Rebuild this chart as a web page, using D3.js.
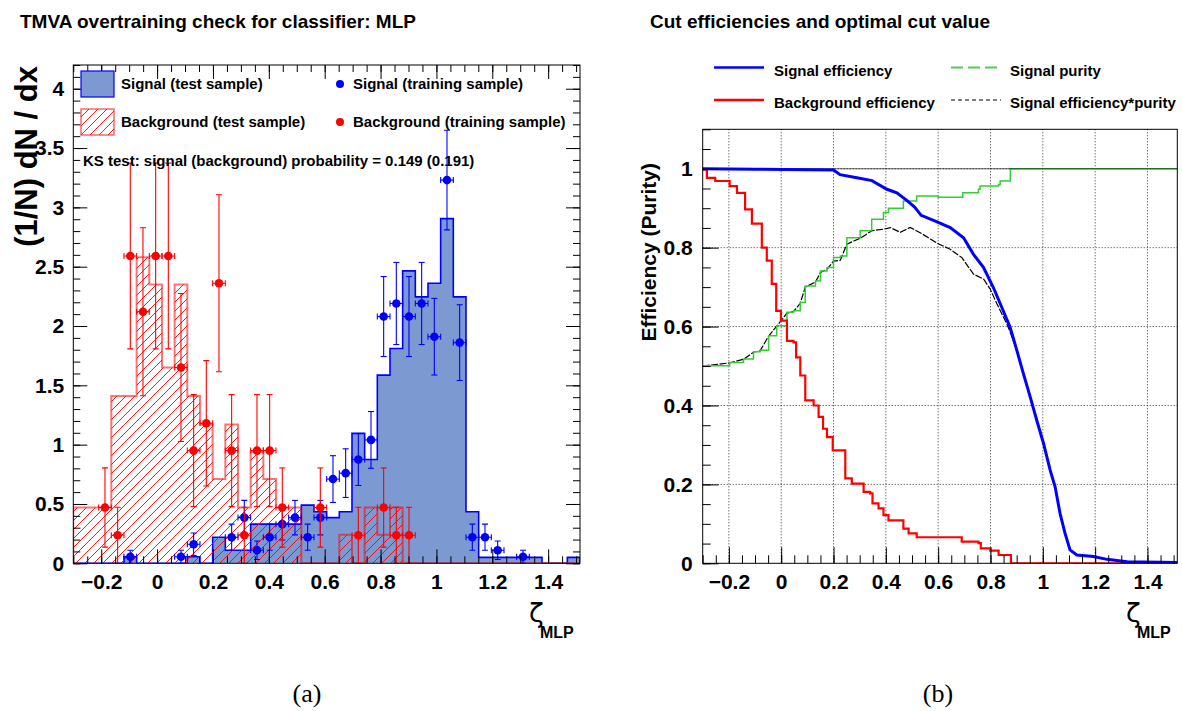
<!DOCTYPE html>
<html lang="en">
<head>
<meta charset="utf-8">
<title>TMVA MLP: overtraining check and cut efficiencies</title>
<script src="https://d3js.org/d3.v7.min.js"></script>
<style>
  body { margin: 0; background: #fff; }
  text { font-family: "Liberation Sans", Arial, Helvetica, sans-serif; font-weight: bold; fill: #000; }
</style>
</head>
<body>
<div id="mainDiv"></div>
<script>
const width = 1182
const height = 711

// binning of the MLP output histograms
const xLo = -0.3
const xHi = 1.514
const nBins = 40

// (a) test samples, 40 bins, normalised (1/N) dN/dx
const sigTest = [0, 0, 0, 0, 0.055, 0, 0, 0, 0, 0.055,
                 0, 0.22, 0.11, 0.11, 0.33, 0.33, 0.33, 0.33, 0.49, 0.435,
                 0.385, 0.435, 1.095, 0.875, 1.586, 1.81, 2.465, 2.246, 2.36, 2.905,
                 2.246, 0.435, 0.05, 0.05, 0.05, 0.05, 0.05, 0, 0, 0.05]
const bkgTest = [0.47, 0.47, 0.47, 1.41, 1.41, 2.58, 2.35, 1.65, 2.35, 1.41,
                 1.17, 0.71, 1.17, 0.47, 0.94, 0.71, 0.47, 0.47, 0, 0,
                 0, 0.24, 0, 0.47, 0.24, 0.47, 0, 0, 0, 0,
                 0, 0, 0, 0, 0, 0, 0, 0, 0, 0]

// (a) training samples: bin index, value, error
const sigTrainBins = [4, 8, 9, 12, 13, 14, 15, 16, 17, 18, 19, 20, 21, 22, 23, 24, 25, 26, 27, 28, 29, 30, 31, 32, 33, 35]
const sigTrainVal = [0.055, 0.055, 0.16, 0.22, 0.385, 0.11, 0.22, 0.33, 0.385, 0.22, 0.385, 0.71, 0.76, 0.875, 1.04,
                     2.08, 2.19, 2.08, 2.19, 1.91, 3.23, 1.86, 0.22, 0.22, 0.11, 0.055]
const sigTrainErr = [0.055, 0.055, 0.095, 0.11, 0.145, 0.078, 0.11, 0.134, 0.145, 0.11, 0.145, 0.197, 0.205, 0.219, 0.239,
                     0.337, 0.346, 0.337, 0.346, 0.323, 0.42, 0.319, 0.11, 0.11, 0.078, 0.055]
const bkgTrainBins = [2, 3, 4, 5, 6, 7, 8, 9, 10, 11, 12, 13, 14, 15, 16, 19, 22, 24, 25, 26]
const bkgTrainVal = [0.47, 0.236, 2.59, 2.12, 2.59, 2.59, 1.65, 0.95, 1.18, 2.36, 0.95, 0.236, 0.95, 0.95, 0.47,
                     0.47, 0.236, 0.47, 0.236, 0.236]
const bkgTrainErr = [0.334, 0.236, 0.783, 0.708, 0.783, 0.783, 0.624, 0.472, 0.528, 0.746, 0.472, 0.236, 0.472, 0.472, 0.334,
                     0.334, 0.236, 0.334, 0.236, 0.236]

// (b) efficiency curves
const sigEffX = [-0.30, -0.10, 0.20, 0.225, 0.289, 0.347, 0.404, 0.442, 0.480, 0.510, 0.535, 0.589, 0.646, 0.697, 0.735,
                 0.773, 0.811, 0.843, 0.875, 0.901, 0.926, 0.952, 0.977, 1.003, 1.028, 1.047, 1.066, 1.085, 1.104, 1.130,
                 1.194, 1.245, 1.322, 1.514]
const sigEffY = [1.000, 0.999, 0.997, 0.985, 0.977, 0.970, 0.948, 0.939, 0.920, 0.903, 0.882, 0.867, 0.851, 0.825, 0.783,
                 0.750, 0.699, 0.649, 0.598, 0.539, 0.480, 0.421, 0.362, 0.303, 0.236, 0.194, 0.126, 0.076, 0.034, 0.021,
                 0.017, 0.010, 0.004, 0.002]
const bkgEffX = [-0.30, -0.284, -0.252, -0.197, -0.169, -0.138, -0.112, -0.074, -0.055, -0.036, -0.019, -0.001, 0.022, 0.047,
                 0.057, 0.073, 0.092, 0.124, 0.143, 0.160, 0.175, 0.197, 0.245, 0.270, 0.315, 0.340, 0.349, 0.372, 0.391,
                 0.410, 0.467, 0.487, 0.518, 0.690, 0.754, 0.763, 0.799, 0.831, 0.878, 1.514]
const bkgEffY = [0.998, 0.977, 0.969, 0.956, 0.939, 0.897, 0.861, 0.800, 0.767, 0.708, 0.640, 0.615, 0.564, 0.560,
                 0.522, 0.476, 0.413, 0.400, 0.371, 0.341, 0.320, 0.286, 0.215, 0.202, 0.181, 0.177, 0.152, 0.139, 0.122,
                 0.109, 0.088, 0.076, 0.066, 0.055, 0.051, 0.038, 0.032, 0.021, 0.000, 0.000]
const purX = [-0.30, -0.197, -0.144, -0.106, -0.080, -0.048, -0.017, 0.022, 0.047, 0.073, 0.092, 0.131, 0.150, 0.175, 0.200,
              0.226, 0.251, 0.302, 0.346, 0.391, 0.410, 0.467, 0.518, 0.600, 0.694, 0.754, 0.760, 0.831, 0.837, 0.876, 1.514]
const purY = [0.501, 0.509, 0.518, 0.536, 0.540, 0.577, 0.602, 0.636, 0.640, 0.661, 0.703, 0.716, 0.741, 0.750, 0.775,
              0.779, 0.825, 0.843, 0.872, 0.889, 0.900, 0.918, 0.931, 0.928, 0.939, 0.948, 0.956, 0.960, 0.969, 1.000, 1.000]
const effPurX = [-0.30, -0.197, -0.144, -0.106, -0.080, -0.048, -0.017, 0.022, 0.047, 0.073, 0.092, 0.131, 0.150, 0.175, 0.200,
                 0.226, 0.251, 0.302, 0.347, 0.392, 0.417, 0.455, 0.493, 0.531, 0.570, 0.606, 0.646, 0.690, 0.735, 0.774,
                 0.799, 0.825, 0.863, 0.878, 0.901, 0.926, 0.952, 0.977, 1.003, 1.028, 1.047, 1.066, 1.085, 1.104, 1.130,
                 1.194, 1.245, 1.322, 1.514]
const effPurY = [0.500, 0.508, 0.517, 0.535, 0.539, 0.576, 0.601, 0.634, 0.638, 0.659, 0.700, 0.713, 0.737, 0.745, 0.766,
                 0.768, 0.809, 0.824, 0.843, 0.847, 0.851, 0.839, 0.851, 0.838, 0.822, 0.808, 0.796, 0.775, 0.733, 0.720,
                 0.695, 0.657, 0.606, 0.581, 0.539, 0.480, 0.421, 0.362, 0.303, 0.236, 0.194, 0.126, 0.076, 0.034, 0.021,
                 0.017, 0.010, 0.004, 0.002]

// tick labels
const xTicks = [-0.2, 0, 0.2, 0.4, 0.6, 0.8, 1, 1.2, 1.4]
const yTicksA = [0, 0.5, 1, 1.5, 2, 2.5, 3, 3.5, 4]
const yTicksB = [0, 0.2, 0.4, 0.6, 0.8, 1]

const fmt = d3.format('~g')
const fontFam = '"Liberation Sans", Arial, Helvetica, sans-serif'

const svg = d3.select('#mainDiv').append('svg')
    .attr('width', width)
    .attr('height', height)

const defs = svg.append('defs')
const hatch = defs.append('pattern')
    .attr('id', 'hatch')
    .attr('patternUnits', 'userSpaceOnUse')
    .attr('width', 9)
    .attr('height', 9)
hatch.append('path')
    .attr('d', 'M0,9 L9,0 M-3,3 L3,-3 M6,12 L12,6')
    .attr('stroke', '#ff0000')
    .attr('stroke-width', 0.9)

// ---------------- panel (a) ----------------
const pa = { left: 73.3, right: 580, top: 65, bottom: 563.3 }
const xA = d3.scaleLinear().domain([xLo, xHi]).range([pa.left, pa.right])
const yA = d3.scaleLinear().domain([0, 4.2]).range([pa.bottom, pa.top])
const binW = (xHi - xLo) / nBins
const edge = i => xLo + i * binW

defs.append('clipPath').attr('id', 'clipA')
    .append('rect').attr('x', pa.left).attr('y', pa.top)
    .attr('width', pa.right - pa.left).attr('height', pa.bottom - pa.top)

const gA = svg.append('g').attr('clip-path', 'url(#clipA)')

const histPts = vals => {
    const pts = vals.map((v, i) => ({ x: edge(i), v: v }))
    pts.push({ x: xHi, v: vals[vals.length - 1] })
    return pts
}
const histArea = d3.area().curve(d3.curveStepAfter)
    .x(d => xA(d.x)).y0(yA(0)).y1(d => yA(d.v))
const histLine = d3.line().curve(d3.curveStepAfter)
    .x(d => xA(d.x)).y(d => yA(d.v))
const outlinePts = vals => [{ x: xLo, v: 0 }].concat(histPts(vals)).concat([{ x: xHi, v: 0 }])

// signal test: filled
gA.append('path').datum(histPts(sigTest))
    .attr('d', histArea).attr('fill', '#7d99d1')
gA.append('path').datum(outlinePts(sigTest))
    .attr('d', histLine).attr('fill', 'none')
    .attr('stroke', '#0000ff').attr('stroke-width', 1.6)

// background test: hatched
gA.append('path').datum(histPts(bkgTest))
    .attr('d', histArea).attr('fill', 'url(#hatch)')
gA.append('path').datum(outlinePts(bkgTest))
    .attr('d', histLine).attr('fill', 'none')
    .attr('stroke', 'rgba(255,0,0,0.55)').attr('stroke-width', 2)

// training points with error bars
function drawPoints(bins, vals, errs, color) {
    const pts = bins.map((b, i) => ({ b: b, v: vals[i], e: errs[i] }))
    const g = gA.append('g').attr('stroke', color).attr('stroke-width', 1.1)
    const cap = 3
    pts.forEach(p => {
        const x0 = xA(edge(p.b)), x1 = xA(edge(p.b + 1)), xc = (x0 + x1) / 2
        const y = yA(p.v), yHi = yA(p.v + p.e), yLo = yA(Math.max(0, p.v - p.e))
        g.append('line').attr('x1', x0).attr('x2', x1).attr('y1', y).attr('y2', y)
        g.append('line').attr('x1', x0).attr('x2', x0).attr('y1', y - cap).attr('y2', y + cap)
        g.append('line').attr('x1', x1).attr('x2', x1).attr('y1', y - cap).attr('y2', y + cap)
        g.append('line').attr('x1', xc).attr('x2', xc).attr('y1', yHi).attr('y2', yLo)
        g.append('line').attr('x1', xc - cap).attr('x2', xc + cap).attr('y1', yHi).attr('y2', yHi)
        g.append('line').attr('x1', xc - cap).attr('x2', xc + cap).attr('y1', yLo).attr('y2', yLo)
    })
    gA.append('g').selectAll('circle').data(pts).enter().append('circle')
        .attr('cx', d => xA(edge(d.b) + binW / 2))
        .attr('cy', d => yA(d.v))
        .attr('r', 4.3)
        .attr('fill', color)
}
drawPoints(sigTrainBins, sigTrainVal, sigTrainErr, '#0000ff')
drawPoints(bkgTrainBins, bkgTrainVal, bkgTrainErr, '#ff0000')

// axes of panel (a): ticks on all four sides, pointing inwards
const minorX = d3.range(-6, 31).map(i => i * 0.05)
const minorYA = d3.range(0, 43).map(i => i * 0.1)

function styleAxis(g, size) {
    g.select('.domain').remove()
    g.selectAll('line').attr('stroke', '#000')
    g.attr('font-family', fontFam).attr('font-size', size).attr('font-weight', 'bold')
    g.selectAll('text').attr('fill', '#000')
}

svg.append('g').attr('transform', `translate(0,${pa.bottom})`)
    .call(d3.axisBottom(xA).tickValues(xTicks).tickSize(-14).tickPadding(11).tickFormat(fmt))
    .call(g => styleAxis(g, 21))
svg.append('g').attr('transform', `translate(0,${pa.bottom})`)
    .call(d3.axisBottom(xA).tickValues(minorX).tickSize(-7).tickFormat(''))
    .call(g => styleAxis(g, 21))
svg.append('g').attr('transform', `translate(0,${pa.top})`)
    .call(d3.axisTop(xA).tickValues(xTicks).tickSize(-14).tickFormat(''))
    .call(g => styleAxis(g, 21))
svg.append('g').attr('transform', `translate(0,${pa.top})`)
    .call(d3.axisTop(xA).tickValues(minorX).tickSize(-7).tickFormat(''))
    .call(g => styleAxis(g, 21))
svg.append('g').attr('transform', `translate(${pa.left},0)`)
    .call(d3.axisLeft(yA).tickValues(yTicksA).tickSize(-14).tickPadding(9).tickFormat(fmt))
    .call(g => styleAxis(g, 21))
svg.append('g').attr('transform', `translate(${pa.left},0)`)
    .call(d3.axisLeft(yA).tickValues(minorYA).tickSize(-7).tickFormat(''))
    .call(g => styleAxis(g, 21))
svg.append('g').attr('transform', `translate(${pa.right},0)`)
    .call(d3.axisRight(yA).tickValues(yTicksA).tickSize(-14).tickFormat(''))
    .call(g => styleAxis(g, 21))
svg.append('g').attr('transform', `translate(${pa.right},0)`)
    .call(d3.axisRight(yA).tickValues(minorYA).tickSize(-7).tickFormat(''))
    .call(g => styleAxis(g, 21))

svg.append('rect')
    .attr('x', pa.left).attr('y', pa.top)
    .attr('width', pa.right - pa.left).attr('height', pa.bottom - pa.top)
    .attr('fill', 'none').attr('stroke', '#000').attr('stroke-width', 1)

// legend (a)
svg.append('rect').attr('x', 81).attr('y', 71).attr('width', 33).attr('height', 26)
    .attr('fill', '#7d99d1').attr('stroke', '#0000ff').attr('stroke-width', 1.2)
svg.append('rect').attr('x', 81).attr('y', 109).attr('width', 33).attr('height', 26)
    .attr('fill', 'url(#hatch)').attr('stroke', 'rgba(255,0,0,0.6)').attr('stroke-width', 1.5)
svg.append('circle').attr('cx', 340).attr('cy', 84).attr('r', 4).attr('fill', '#0000ff')
svg.append('circle').attr('cx', 340).attr('cy', 122).attr('r', 4).attr('fill', '#ff0000')

const legA = [
    { x: 121, y: 89, t: 'Signal (test sample)' },
    { x: 121, y: 127, t: 'Background (test sample)' },
    { x: 353, y: 89, t: 'Signal (training sample)' },
    { x: 353, y: 127, t: 'Background (training sample)' },
    { x: 83, y: 166, t: 'KS test: signal (background) probability = 0.149 (0.191)' }
]
svg.append('g').selectAll('text').data(legA).enter().append('text')
    .attr('x', d => d.x).attr('y', d => d.y)
    .attr('font-size', 15)
    .text(d => d.t)

svg.append('text').attr('x', 20).attr('y', 28).attr('font-size', 19)
    .text('TMVA overtraining check for classifier: MLP')
svg.append('text')
    .attr('transform', 'translate(37,66) rotate(-90)')
    .attr('text-anchor', 'end').attr('font-size', 31)
    .text('(1/N) dN / dx')

// ---------------- panel (b) ----------------
const pb = { left: 702.7, right: 1177.3, top: 129.3, bottom: 563.3 }
const xB = d3.scaleLinear().domain([xLo, xHi]).range([pb.left, pb.right])
const yB = d3.scaleLinear().domain([0, 1.1]).range([pb.bottom, pb.top])

defs.append('clipPath').attr('id', 'clipB')
    .append('rect').attr('x', pb.left).attr('y', pb.top)
    .attr('width', pb.right - pb.left).attr('height', pb.bottom - pb.top)

const gB = svg.append('g').attr('clip-path', 'url(#clipB)')

// dotted grid
gB.append('g').selectAll('line').data(xTicks).enter().append('line')
    .attr('x1', d => xB(d)).attr('x2', d => xB(d))
    .attr('y1', pb.top).attr('y2', pb.bottom)
    .attr('stroke', '#333').attr('stroke-width', 1).attr('stroke-dasharray', '1,2')
gB.append('g').selectAll('line').data(yTicksB.filter(d => d > 0)).enter().append('line')
    .attr('x1', pb.left).attr('x2', pb.right)
    .attr('y1', d => yB(d)).attr('y2', d => yB(d))
    .attr('stroke', '#333').attr('stroke-width', 1).attr('stroke-dasharray', '1,2')

const zip = (xs, ys) => xs.map((x, i) => [x, ys[i]])
const stepLine = d3.line().curve(d3.curveStepAfter).x(d => xB(d[0])).y(d => yB(d[1]))
const smoothLine = d3.line().x(d => xB(d[0])).y(d => yB(d[1]))

gB.append('path').datum(zip(effPurX, effPurY)).attr('d', smoothLine)
    .attr('fill', 'none').attr('stroke', '#000').attr('stroke-width', 1.2).attr('stroke-dasharray', '7,1.5')
gB.append('path').datum(zip(purX, purY)).attr('d', stepLine)
    .attr('fill', 'none').attr('stroke', '#33cc33').attr('stroke-width', 1.5)

// reference line at 1 (darkens the purity plateau)
gB.append('line')
    .attr('x1', pb.left).attr('x2', pb.right)
    .attr('y1', yB(1)).attr('y2', yB(1))
    .attr('stroke', 'rgba(0,0,0,0.6)').attr('stroke-width', 1)

gB.append('path').datum(zip(bkgEffX, bkgEffY)).attr('d', stepLine)
    .attr('fill', 'none').attr('stroke', '#ff0000').attr('stroke-width', 2.2)
gB.append('path').datum(zip(sigEffX, sigEffY)).attr('d', smoothLine)
    .attr('fill', 'none').attr('stroke', '#0000ff').attr('stroke-width', 3)

const minorYB = d3.range(0, 23).map(i => i * 0.05)
svg.append('g').attr('transform', `translate(0,${pb.bottom})`)
    .call(d3.axisBottom(xB).tickValues(xTicks).tickSize(-16).tickPadding(11).tickFormat(fmt))
    .call(g => styleAxis(g, 21))
svg.append('g').attr('transform', `translate(0,${pb.bottom})`)
    .call(d3.axisBottom(xB).tickValues(minorX).tickSize(-8).tickFormat(''))
    .call(g => styleAxis(g, 21))
svg.append('g').attr('transform', `translate(${pb.left},0)`)
    .call(d3.axisLeft(yB).tickValues(yTicksB).tickSize(-16).tickPadding(10).tickFormat(fmt))
    .call(g => styleAxis(g, 21))
svg.append('g').attr('transform', `translate(${pb.left},0)`)
    .call(d3.axisLeft(yB).tickValues(minorYB).tickSize(-8).tickFormat(''))
    .call(g => styleAxis(g, 21))

svg.append('rect')
    .attr('x', pb.left).attr('y', pb.top)
    .attr('width', pb.right - pb.left).attr('height', pb.bottom - pb.top)
    .attr('fill', 'none').attr('stroke', '#000').attr('stroke-width', 1)

// legend (b)
const legB = [
    { x: 714, y: 67.5, color: '#0000ff', w: 2.5, dash: null, tx: 774, t: 'Signal efficiency' },
    { x: 714, y: 100, color: '#ff0000', w: 2.5, dash: null, tx: 774, t: 'Background efficiency' },
    { x: 951, y: 67.5, color: '#55cc55', w: 2, dash: '12,5', tx: 1010, t: 'Signal purity' },
    { x: 951, y: 100, color: '#000', w: 1.2, dash: '4,3', tx: 1010, t: 'Signal efficiency*purity' }
]
const lg = svg.append('g').selectAll('g').data(legB).enter().append('g')
lg.append('line')
    .attr('x1', d => d.x).attr('x2', d => d.x + 50)
    .attr('y1', d => d.y).attr('y2', d => d.y)
    .attr('stroke', d => d.color).attr('stroke-width', d => d.w)
    .attr('stroke-dasharray', d => d.dash)
lg.append('text')
    .attr('x', d => d.tx).attr('y', d => d.y + 8)
    .attr('font-size', 15)
    .text(d => d.t)

svg.append('text').attr('x', 650).attr('y', 28).attr('font-size', 19)
    .text('Cut efficiencies and optimal cut value')
svg.append('text')
    .attr('transform', 'translate(656,163) rotate(-90)')
    .attr('text-anchor', 'end').attr('font-size', 21)
    .text('Efficiency (Purity)')

// x axis titles
const xTitles = [{ x: 529 }, { x: 1126 }]
xTitles.forEach(d => {
    svg.append('text').attr('x', d.x).attr('y', 622)
        .attr('font-size', 27)
        .style('font-family', '"DejaVu Sans", sans-serif').style('font-weight', 'normal')
        .text('ζ')
    svg.append('text').attr('x', d.x + 11).attr('y', 638)
        .attr('font-size', 16)
        .text('MLP')
})

// captions
const captions = [{ x: 307, t: '(a)' }, { x: 938, t: '(b)' }]
svg.append('g').selectAll('text').data(captions).enter().append('text')
    .attr('x', d => d.x).attr('y', 702)
    .attr('text-anchor', 'middle')
    .attr('font-size', 26)
    .style('font-family', '"Liberation Serif", "DejaVu Serif", serif')
    .style('font-weight', 'normal')
    .text(d => d.t)
</script>
</body>
</html>
